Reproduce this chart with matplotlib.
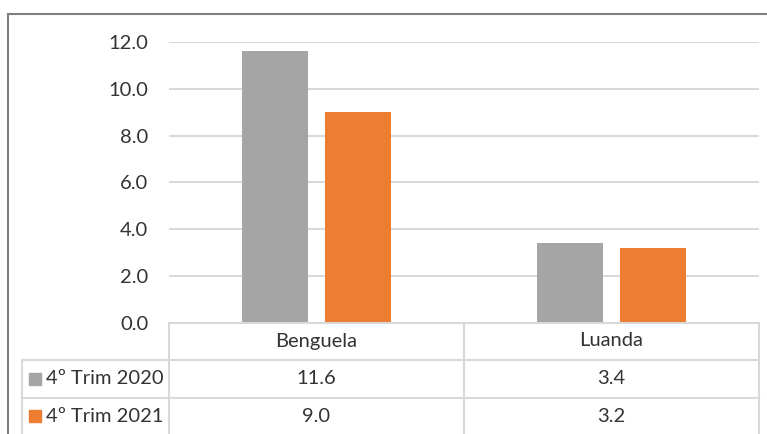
import matplotlib
matplotlib.use("Agg")
import matplotlib.pyplot as plt
import numpy as np

# data
categories = ["Benguela", "Luanda"]
series_names = ["4º Trim 2020", "4º Trim 2021"]
vals_2020 = [11.6, 3.4]
vals_2021 = [9.0, 3.2]
colors = ["#A5A5A5", "#ED7D31"]
yticks = [0, 2, 4, 6, 8, 10, 12]

plt.rcParams['font.family'] = ['Lato', 'DejaVu Sans']
W, H = 767, 434
fig = plt.figure(figsize=(W / 100, H / 100), dpi=100)
fig.patch.set_facecolor("white")

# plot area in pixels
px0, px1 = 169, 759
py_top, py_bot = 42, 323
ax = fig.add_axes([px0 / W, (H - py_bot) / H, (px1 - px0) / W, (py_bot - py_top) / H])

x = np.arange(len(categories))
bw = 66 / 295
gap = 17 / 295
ax.bar(x - (bw + gap) / 2, vals_2020, width=bw, color=colors[0], zorder=3)
ax.bar(x + (bw + gap) / 2, vals_2021, width=bw, color=colors[1], zorder=3)
ax.set_xlim(-0.5, len(categories) - 0.5)
ax.set_ylim(0, 12)
ax.set_yticks(yticks)
ax.set_yticklabels([f"{t:.1f}" for t in yticks], fontsize=14.5, color="#333333")
ax.tick_params(axis="y", length=0, pad=15)
ax.set_xticks([])
ax.grid(axis="y", color="#D9D9D9", linewidth=1.5, zorder=0)
for s in ax.spines.values():
    s.set_visible(False)

# overlay in pixel coords for data table and frame
ov = fig.add_axes([0, 0, 1, 1])
ov.set_xlim(0, W)
ov.set_ylim(H, 0)
ov.axis("off")
ov.patch.set_visible(False)

lc = "#D9D9D9"
lw = 1.5
col_edges = [px0, 464, px1]
row_lines = [py_bot, 360, 398]
left_col = 22
# header top
ov.plot([px0, px1], [py_bot, py_bot], color=lc, lw=lw)
for yl in row_lines[1:]:
    ov.plot([left_col, px1], [yl, yl], color=lc, lw=lw)
for xe in col_edges:
    ov.plot([xe, xe], [py_bot, H], color=lc, lw=lw)
ov.plot([left_col, left_col], [row_lines[1], H], color=lc, lw=lw)

tc = "#333333"
fs = 14.5
centers = [(col_edges[i] + col_edges[i + 1]) / 2 for i in range(len(categories))]
for c, name in zip(centers, categories):
    ov.text(c, 341, name, ha="center", va="center", fontsize=fs, color=tc)
row_y = [379, 416]
for ry, vals, name, col in zip(row_y, [vals_2020, vals_2021], series_names, colors):
    ov.add_patch(plt.Rectangle((29, ry - 6), 12, 12, color=col))
    ov.text(46, ry, name, ha="left", va="center", fontsize=fs, color=tc)
    for c, v in zip(centers, vals):
        ov.text(c, ry, f"{v:.1f}", ha="center", va="center", fontsize=fs, color=tc)

# outer chart frame (cropped)
ov.plot([8, W], [14, 14], color="#7F7F7F", lw=1.5)
ov.plot([8, 8], [14, H], color="#7F7F7F", lw=1.5)

fig.savefig("out.png", dpi=100)
